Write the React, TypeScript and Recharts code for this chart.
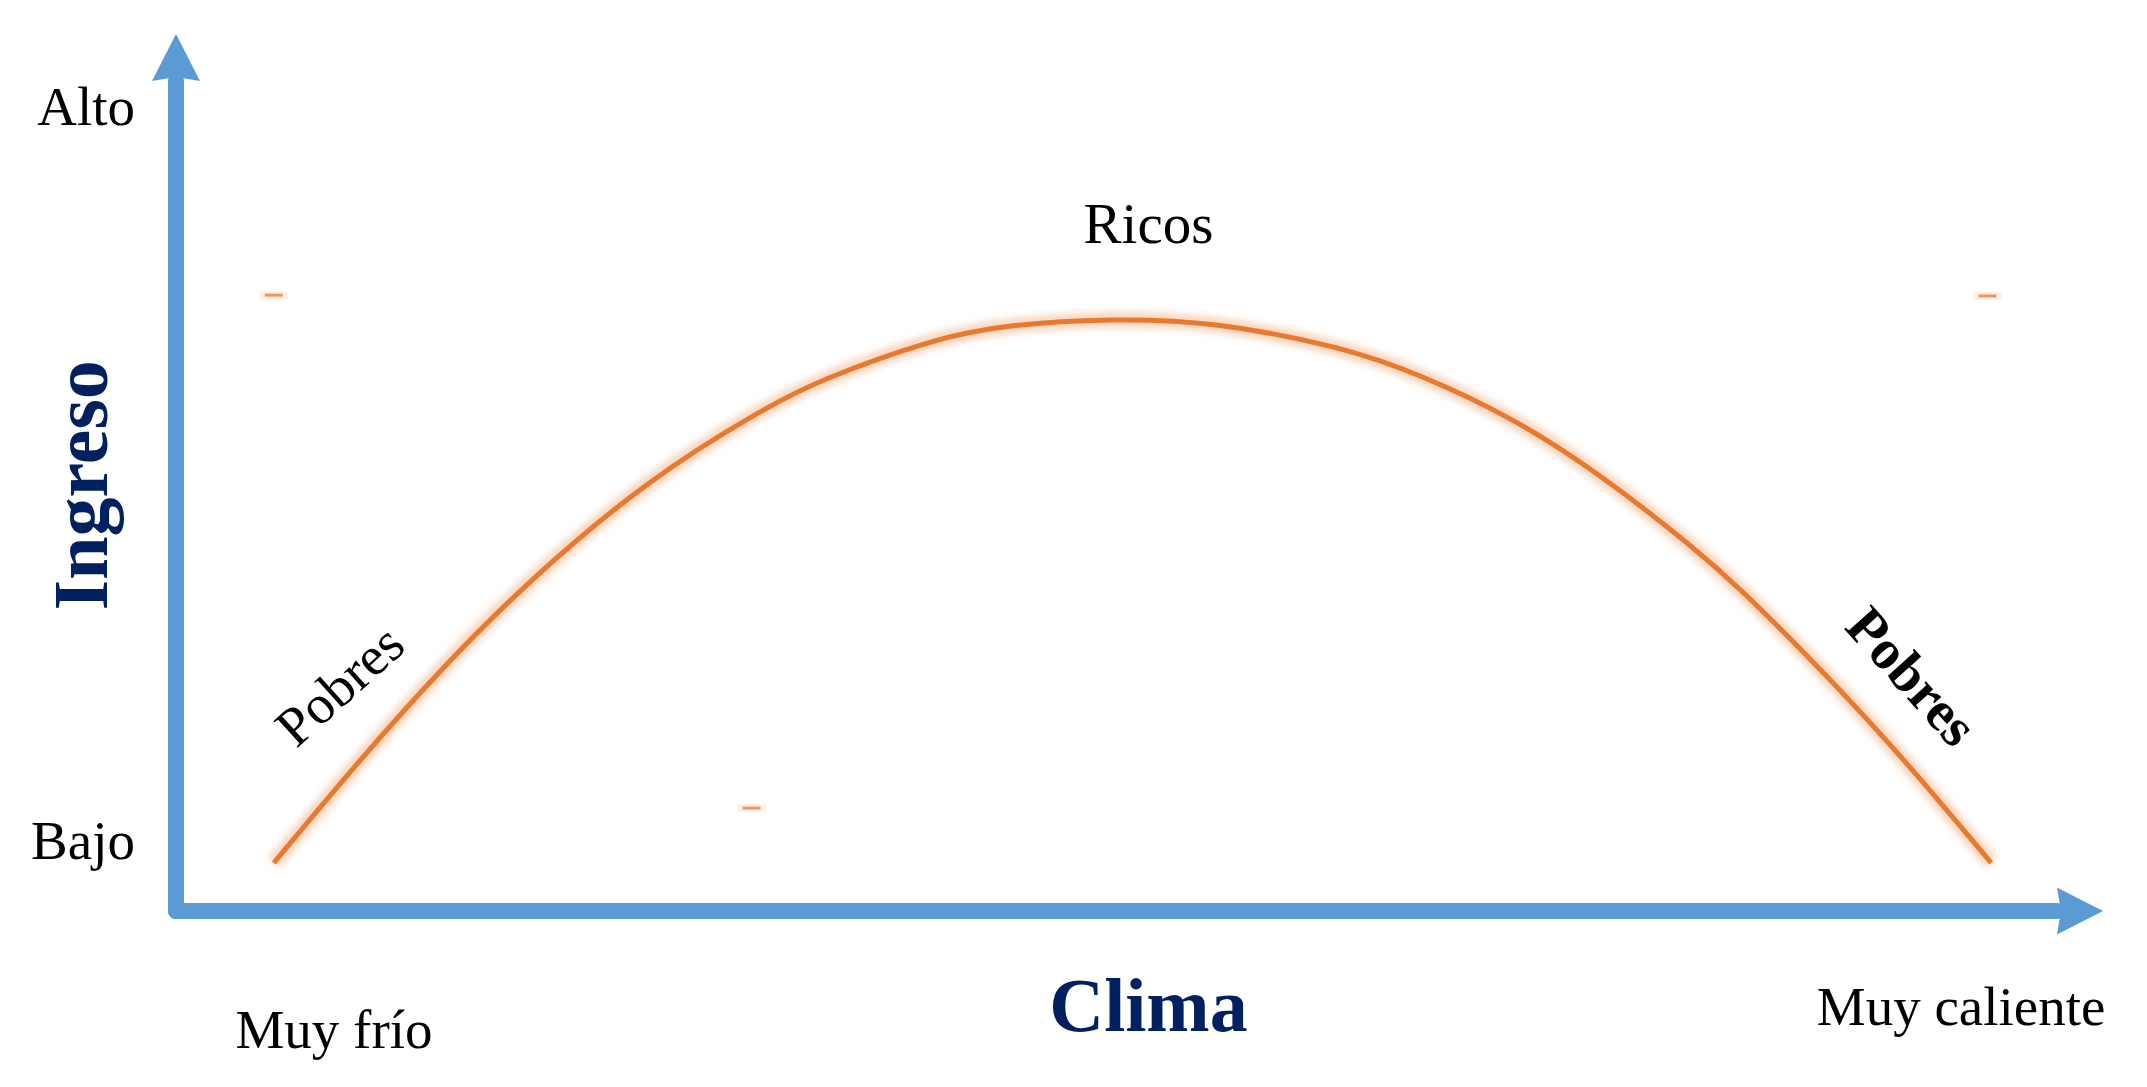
import React from 'react';
import { LineChart, Line, XAxis, YAxis, ReferenceDot } from 'recharts';

// Curve (Clima on x, Ingreso on y, both 0-100)
const climaValues = [5.2, 9.7, 14.1, 18.9, 25.0, 30.8, 34.8, 39.9, 44.5, 49.7, 55.3, 61.6, 66.3, 71.0, 75.7, 80.3, 83.4, 86.6, 89.7, 92.8, 96.5];
const ingresoValues = [5.8, 17.9, 29.0, 39.8, 51.3, 59.8, 64.3, 68.4, 70.5, 71.2, 70.6, 67.9, 64.3, 59.2, 52.4, 44.4, 38.2, 31.0, 23.6, 15.7, 5.8];

// Axis tick labels
const yTickValues = [8.6, 97.0];
const yTickLabels = ['Bajo', 'Alto'];
const xTickValues = [8.4, 94.9];
const xTickLabels = ['Muy frío', 'Muy caliente'];

// Annotations (text + anchor in data units)
const noteTexts = ['Ricos', 'Pobres', 'Pobres', 'Clima', 'Ingreso'];
const noteX = [51.7, 8.7, 92.3, 51.7, -3.67];
const noteY = [80.5, 27.2, 28.3, -14.5, 51.3];

// Small orange fragments visible in the picture
const fragX = [5.2, 96.3, 30.6];
const fragY = [74.2, 74.1, 12.4];

const curveData = climaValues.map((c, i) => ({ clima: c, ingreso: ingresoValues[i] }));

const W = 2147;
const H = 1087;
const BLUE = '#5B9BD5';
const NAVY = '#002060';
const ORANGE = '#E8792F';
const SERIF = '"Liberation Serif", "Times New Roman", serif';

const noteStyles: Record<number, any> = {
  0: { fontSize: 57, fill: '#000', rotate: 0, anchor: 'middle', baseline: 'alphabetic', weight: 400 },
  1: { fontSize: 55, fill: '#000', rotate: -42, anchor: 'middle', baseline: 'central', weight: 400 },
  2: { fontSize: 56, fill: '#000', rotate: 48, anchor: 'middle', baseline: 'central', weight: 700 },
  3: { fontSize: 76, fill: NAVY, rotate: 0, anchor: 'middle', baseline: 'alphabetic', weight: 700 },
  4: { fontSize: 78, fill: NAVY, rotate: -90, anchor: 'middle', baseline: 'alphabetic', weight: 700 },
};

const xTickOffsets: Record<string, number> = { 'Muy frío': 137, 'Muy caliente': 114 };

const XTick = (props: any) => {
  const { x, y, payload } = props;
  const idx = xTickValues.indexOf(payload.value);
  const label = xTickLabels[idx] ?? '';
  return (
    <text x={x} y={y + (xTickOffsets[label] ?? 120)} textAnchor="middle" fontSize={55} fontFamily={SERIF} fill="#000">
      {label}
    </text>
  );
};

const YTick = (props: any) => {
  const { x, y, payload } = props;
  const idx = yTickValues.indexOf(payload.value);
  const label = yTickLabels[idx] ?? '';
  return (
    <text x={x} y={y} dy="0.355em" textAnchor="end" fontSize={55} fontFamily={SERIF} fill="#000">
      {label}
    </text>
  );
};

const makeNote = (i: number) => (p: any) => {
  const s = noteStyles[i];
  const { cx, cy } = p;
  return (
    <text
      x={cx}
      y={cy}
      textAnchor={s.anchor}
      dominantBaseline={s.baseline}
      fontSize={s.fontSize}
      fontWeight={s.weight}
      fontFamily={SERIF}
      fill={s.fill}
      transform={s.rotate ? `rotate(${s.rotate}, ${cx}, ${cy})` : undefined}
    >
      {noteTexts[i]}
    </text>
  );
};

const UpArrow = (p: any) => {
  const { cx, cy } = p;
  return <path d={`M${cx},${cy - 47} L${cx + 24},${cy} L${cx},${cy - 4} L${cx - 24},${cy} Z`} fill={BLUE} />;
};

const RightArrow = (p: any) => {
  const { cx, cy } = p;
  return <path d={`M${cx + 46},${cy} L${cx},${cy + 23.5} L${cx + 4},${cy} L${cx},${cy - 23.5} Z`} fill={BLUE} />;
};

const Fragment = (p: any) => {
  const { cx, cy } = p;
  return (
    <g>
      <rect x={cx - 14} y={cy - 4} width={28} height={8} fill="#F8CBAD" opacity={0.3} />
      <rect x={cx - 9} y={cy - 1.5} width={18} height={3} fill={ORANGE} opacity={0.75} />
    </g>
  );
};

export default function App() {
  return (
    <div style={{ position: 'absolute', left: 0, top: 0, width: W, height: H, background: '#fff', overflow: 'hidden' }}>
      <svg width={0} height={0} style={{ position: 'absolute' }}>
        <defs>
          <filter id="glowBlur" x="-10%" y="-10%" width="120%" height="120%">
            <feGaussianBlur stdDeviation="3" />
          </filter>
        </defs>
      </svg>
      <LineChart width={W} height={H} data={curveData} margin={{ top: 81, right: 90, bottom: 175, left: 175 }}>
        <XAxis
          type="number"
          dataKey="clima"
          domain={[0, 100]}
          ticks={xTickValues}
          tick={<XTick />}
          tickLine={false}
          tickSize={0}
          tickMargin={0}
          height={1}
          axisLine={{ stroke: BLUE, strokeWidth: 16, strokeLinecap: 'round' }}
        />
        <YAxis
          type="number"
          domain={[0, 100]}
          ticks={yTickValues}
          tick={<YTick />}
          tickLine={false}
          tickSize={0}
          tickMargin={41}
          width={1}
          axisLine={{ stroke: BLUE, strokeWidth: 16, strokeLinecap: 'round' }}
        />
        <Line
          type="natural"
          dataKey="ingreso"
          stroke="#F4B183"
          strokeWidth={16}
          strokeOpacity={0.5}
          filter="url(#glowBlur)"
          dot={false}
          activeDot={false}
          isAnimationActive={false}
        />
        <Line
          type="natural"
          dataKey="ingreso"
          stroke={ORANGE}
          strokeWidth={5}
          dot={false}
          activeDot={false}
          isAnimationActive={false}
        />
        <ReferenceDot x={0} y={100} r={0} ifOverflow="visible" shape={UpArrow} />
        <ReferenceDot x={100} y={0} r={0} ifOverflow="visible" shape={RightArrow} />
        {fragX.map((fx, i) => (
          <ReferenceDot key={`f${i}`} x={fx} y={fragY[i]} r={0} ifOverflow="visible" shape={Fragment} />
        ))}
        {noteTexts.map((t, i) => (
          <ReferenceDot key={`n${i}`} x={noteX[i]} y={noteY[i]} r={0} ifOverflow="visible" shape={makeNote(i)} />
        ))}
      </LineChart>
    </div>
  );
}
